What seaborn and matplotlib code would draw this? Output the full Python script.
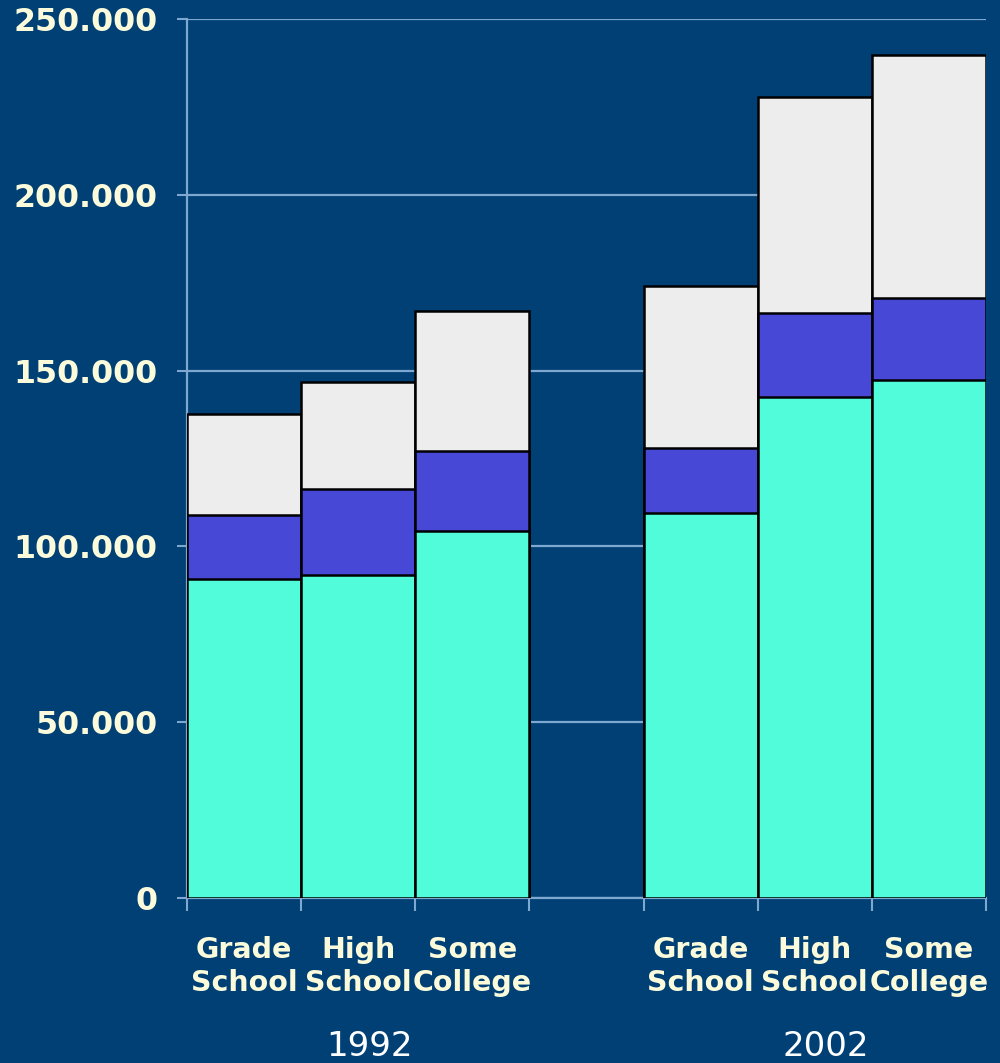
import matplotlib
matplotlib.use("Agg")
import matplotlib.pyplot as plt
from matplotlib.ticker import FixedLocator, FuncFormatter
import pandas as pd
import seaborn as sns

# Education levels and survey years
levels = ["Grade\nSchool", "High\nSchool", "Some\nCollege"]
years = ["1992", "2002"]

# Stacked segment sizes, bottom to top, per year (same order as levels)
seg_low_1992 = [90600, 91800, 104500]
seg_mid_1992 = [18200, 24600, 22600]
seg_top_1992 = [29000, 30300, 39900]

seg_low_2002 = [109400, 142600, 147200]
seg_mid_2002 = [18700, 23700, 23500]
seg_top_2002 = [46000, 61600, 69100]

y_ticks = [0, 50000, 100000, 150000, 200000, 250000]

BG = "#004075"
CYAN = "#50FCDA"
BLUE = "#4848D6"
GREY = "#EDEDED"
LINE = "#7FA8D0"
LABEL = "#FBFBDC"

rows = []
for year, lows, mids, tops in [("1992", seg_low_1992, seg_mid_1992, seg_top_1992),
                               ("2002", seg_low_2002, seg_mid_2002, seg_top_2002)]:
    for lvl, lo, mi, tp in zip(levels, lows, mids, tops):
        rows.append({"slot": f"{year} {lvl}", "low": lo,
                     "mid": lo + mi, "total": lo + mi + tp})
df = pd.DataFrame(rows)

# one empty slot separates the two years
order = [f"1992 {l}" for l in levels] + ["gap"] + [f"2002 {l}" for l in levels]

sns.set_theme(style="white")
plt.rcParams["font.family"] = ["DejaVu Sans"]

fig = plt.figure(figsize=(10, 10.63), dpi=100, facecolor=BG)
ax = fig.add_axes([0.187, 0.1552, 0.799, 0.8269], facecolor=BG)

bar_kw = dict(order=order, width=1.0, edgecolor="black", linewidth=1.8,
              errorbar=None, ax=ax, zorder=3)
sns.barplot(data=df, x="slot", y="total", color=GREY, saturation=1, **bar_kw)
sns.barplot(data=df, x="slot", y="mid", color=BLUE, saturation=1, **bar_kw)
sns.barplot(data=df, x="slot", y="low", color=CYAN, saturation=1, **bar_kw)

ax.set_xlim(-0.5, len(order) - 0.5)
ax.set_ylim(0, 250000)
ax.set_xlabel("")
ax.set_ylabel("")

# horizontal grid behind bars
ax.set_axisbelow(True)
ax.yaxis.grid(True, color=LINE, linewidth=1.6, zorder=0)
ax.xaxis.grid(False)

for side in ["top", "right"]:
    ax.spines[side].set_visible(False)
for side in ["left", "bottom"]:
    ax.spines[side].set_color(LINE)
    ax.spines[side].set_linewidth(1.6)

# y axis
ax.yaxis.set_major_locator(FixedLocator(y_ticks))
ax.yaxis.set_major_formatter(FuncFormatter(lambda v, p: f"{v:,.0f}".replace(",", ".")))
ax.tick_params(axis="y", which="major", length=7, width=1.5, color=LINE,
               labelsize=22.8, labelcolor=LABEL, pad=14, left=True)
for t in ax.get_yticklabels():
    t.set_fontweight("bold")

# x axis: labels under bars, tick marks at bar boundaries
centers = [i for i, s in enumerate(order) if s != "gap"]
ax.set_xticks(centers)
ax.set_xticklabels(levels * len(years), fontsize=20.5, fontweight="bold",
                   color=LABEL, linespacing=1.25)
ax.tick_params(axis="x", which="major", length=0, pad=27)
ax.set_xticks([i - 0.5 for i in range(len(order) + 1)], minor=True)
ax.tick_params(axis="x", which="minor", length=9, width=1.5, color=LINE,
               direction="out", bottom=True)

# year captions below each group
for year, pos in zip(years, [1, 5]):
    x_fig = 0.187 + 0.799 * (pos + 0.5) / len(order) + 0.011
    fig.text(x_fig, 0.031, year, ha="center", va="top", fontsize=24.5, color="white")

fig.savefig("out.png", dpi=100, facecolor=BG)
